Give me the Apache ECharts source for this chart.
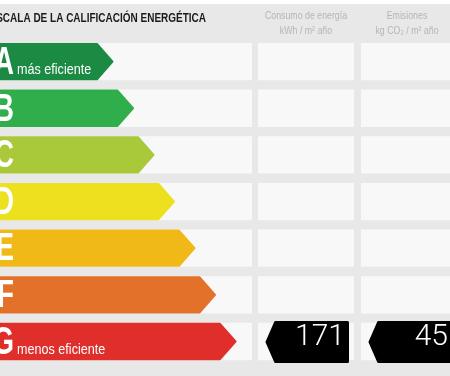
<!DOCTYPE html>
<html><head><meta charset="utf-8">
<script src="https://cdn.jsdelivr.net/npm/echarts@6/dist/echarts.min.js"></script>
<style>html,body{margin:0;padding:0;background:#fff}#c{width:450px;height:376px}</style>
</head><body><div id="c"></div>
<script>
const grades = ['A','B','C','D','E','F','G'];
const gradeNotes = ['más eficiente','','','','','','menos eficiente'];
const gradeColors = ['#1b8a43','#2fae4b','#a9c93b','#ece01f','#f1b918','#e3712a','#e02f2a'];
const title = 'ESCALA DE LA CALIFICACIÓN ENERGÉTICA';
const colHeaders = [['Consumo de energía','kWh / m² año'],['Emisiones','kg CO₂ / m² año']];
const ratedGrade = 'G';
const ratedValues = [171, 45]; // consumo, emisiones

const sans = "'Liberation Sans', Arial, sans-serif";
const chart = echarts.init(document.getElementById('c'));

function arrowItem(params, api){
  const idx = api.value(0);
  const yc = api.coord([0, idx])[1];
  const band = api.size([0, 1])[1];
  const h = band * 0.8;
  const top = yc - h/2, bot = yc + h/2;
  const X = v => api.coord([v, idx])[0];
  const tip = X(114 + idx * 20.5);
  const body = tip - 17;
  const ch = [
    {type:'rect', shape:{x:X(0), y:top, width:X(252)-X(0), height:h}, style:{fill:'#f8f8f8'}},
    {type:'rect', shape:{x:X(258), y:top, width:X(354)-X(258), height:h}, style:{fill:'#f8f8f8'}},
    {type:'rect', shape:{x:X(361), y:top, width:X(455)-X(361), height:h}, style:{fill:'#f8f8f8'}},
    {type:'polygon', shape:{points:[[-5,top+1],[body,top+1],[tip-1.5,yc],[body,bot-1],[-5,bot-1]]},
      style:{fill:gradeColors[idx], stroke:gradeColors[idx], lineWidth:2, lineJoin:'round'}},
    {type:'text', x:14, y:yc+1.5, scaleX:0.7,
      style:{text:grades[idx], x:0, y:0, align:'right', verticalAlign:'middle', fill:'#fff', font:"bold 39px " + sans}}
  ];
  if (gradeNotes[idx]) {
    ch.push({type:'text', x:17, y:yc+8, scaleX:0.84,
      style:{text:gradeNotes[idx], x:0, y:0, align:'left', verticalAlign:'middle', fill:'#fff', font:"15px " + sans}});
  }
  return {type:'group', children:ch};
}

function tagItem(params, api){
  const col = api.value(0);
  const idx = api.value(1);
  const val = api.value(2);
  const yc = api.coord([0, idx])[1] + 0.5;
  const h = 42;
  const top = yc - h/2, bot = yc + h/2;
  const X = v => api.coord([v, idx])[0];
  const tip = X(col === 0 ? 266 : 369);
  const body = tip + 9.5;
  const right = X(col === 0 ? 349 : 460);
  const textR = X(col === 0 ? 345 : 448);
  return {type:'group', children:[
    {type:'polygon', shape:{points:[[tip+1,yc],[body,top+1.5],[right-1.5,top+1.5],[right-1.5,bot-1.5],[body,bot-1.5]]},
      style:{fill:'#000', stroke:'#000', lineWidth:3, lineJoin:'round'}},
    {type:'text', style:{text:String(val), x:textR, y:yc-4, align:'right', verticalAlign:'middle',
      fill:'#fff', font:"300 30px Roboto, 'Open Sans', sans-serif"}}
  ]};
}

function hdr(text, x, y){
  return {type:'text', x:x, y:y, scaleX:0.8,
    style:{text:text, x:0, y:0, fill:'#b5b5b5', font:"11px " + sans, align:'center', verticalAlign:'middle'}};
}

const rIdx = grades.indexOf(ratedGrade);
chart.setOption({
  backgroundColor:'#e8e8e8',
  animation:false,
  grid:{left:0, right:0, top:38.3, bottom:11.2},
  xAxis:{type:'value', min:0, max:450, show:false},
  yAxis:{type:'category', data:grades, inverse:true, show:false},
  graphic:[
    {type:'rect', left:0, top:0, shape:{width:450, height:4}, style:{fill:'#ffffff'}, z:0},
    {type:'text', x:206, y:18, scaleX:0.74,
      style:{text:title, x:0, y:0, fill:'#1a1a1a', font:"bold 13.5px " + sans, align:'right', verticalAlign:'middle'}},
    hdr(colHeaders[0][0], 306, 16),
    hdr(colHeaders[0][1], 306, 31),
    hdr(colHeaders[1][0], 407, 16),
    hdr(colHeaders[1][1], 407, 31)
  ],
  series:[
    {type:'custom', renderItem:arrowItem, data:grades.map((g,i)=>[i]), encode:{y:0}, z:2},
    {type:'custom', renderItem:tagItem, data:ratedValues.map((v,c)=>[c, rIdx, v]), encode:{y:1}, z:3}
  ]
});
</script>
</body></html>
